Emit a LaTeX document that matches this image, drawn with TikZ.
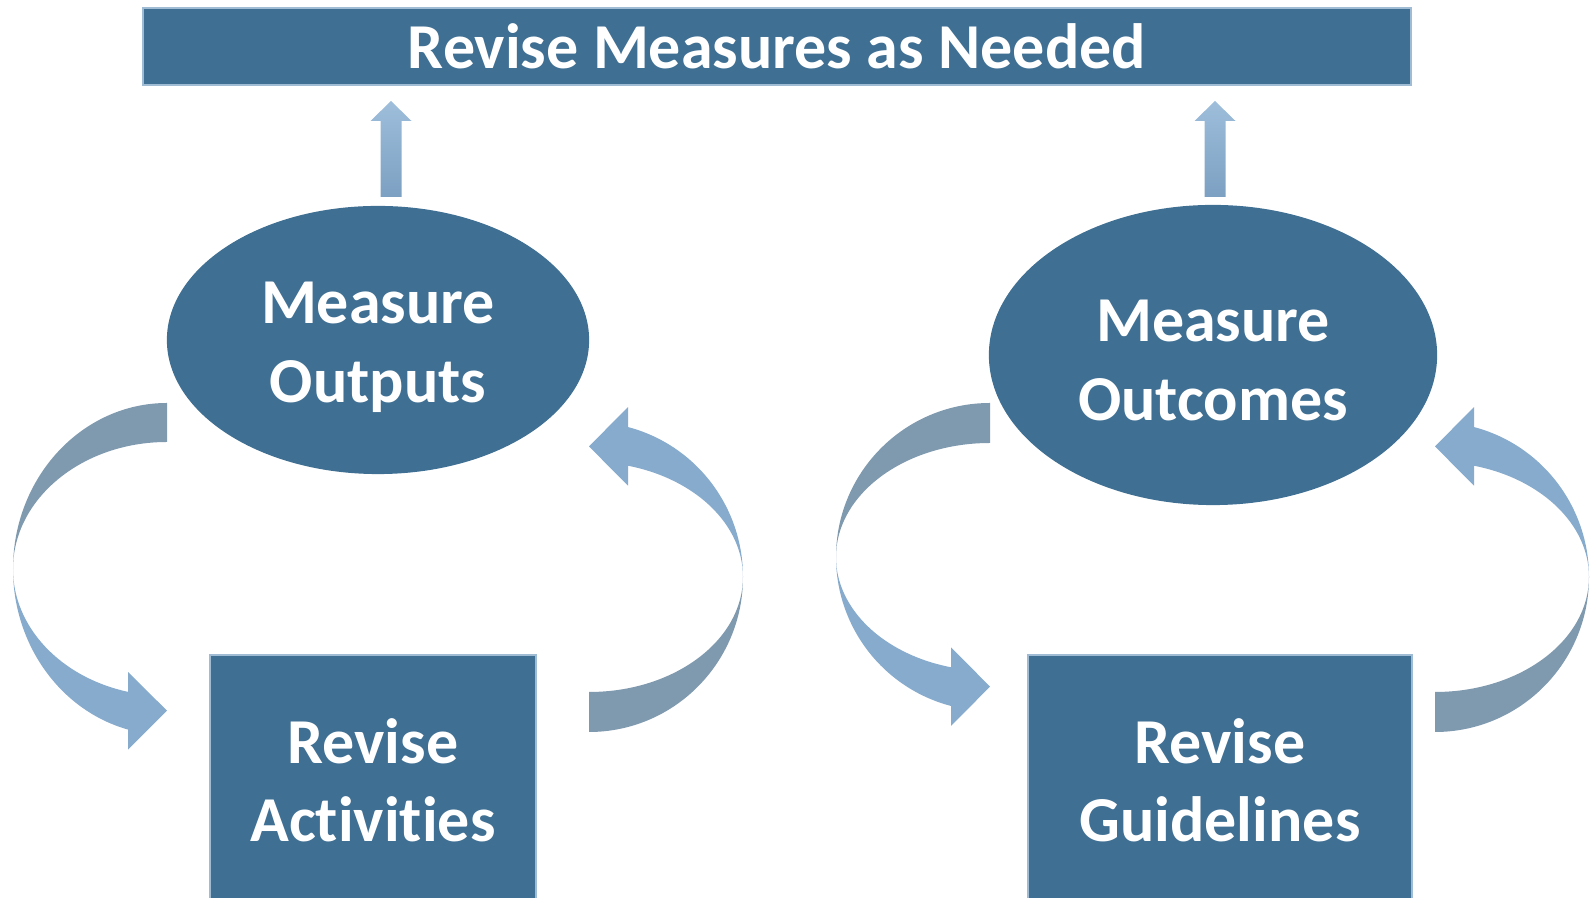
\documentclass[tikz,border=0pt]{standalone}
\usepackage{fontspec}
\setmainfont{Carlito}[RawFeature={-liga;-clig;-calt;-dlig}]
\usetikzlibrary{shapes.geometric}

\definecolor{mainblue}{RGB}{63,111,147}
\definecolor{boxedge}{RGB}{160,188,213}
\definecolor{loopdark}{RGB}{127,153,175}
\definecolor{looplight}{RGB}{134,171,204}
\definecolor{uptop}{RGB}{158,190,219}
\definecolor{upbot}{RGB}{124,160,194}

\begin{document}
\begin{tikzpicture}[x=0.01cm, y=-0.01cm,
    box/.style={rectangle, fill=mainblue, draw=boxedge, line width=0.5pt,
      text=white, align=center, inner sep=0pt,
      font=\bfseries\fontsize{18.2}{22.2}\selectfont},
    oval/.style={ellipse, fill=mainblue, text=white, align=center, inner sep=0pt,
      font=\bfseries\fontsize{18.2}{22.4}\selectfont}]
  \useasboundingbox (0,0) rectangle (1593,898);
  \clip (0,0) rectangle (1593,898);

  % curved arrows round each pair
  \foreach \cx/\cy/\ry/\ri/\rot in {167/569/166/127/0, 589/577/155/115/180,
                                    990/557/154/114/0, 1435/577/155/115/180}{
    \begin{scope}[shift={(\cx,\cy)}, rotate=\rot]
      \fill[loopdark] (0,-\ry) arc[start angle=270, end angle=180, x radius=154, y radius=\ry]
        arc[start angle=180, end angle=270, x radius=154, y radius=\ri] -- cycle;
      \fill[looplight] (-154,0) arc[start angle=180, end angle=104.67, x radius=154, y radius=\ry]
        -- ++(0,20) -- (0,{(\ry+\ri)/2*0.9674}) -- (-39,{\ri*0.9674-20}) -- (-39,{\ri*0.9674})
        arc[start angle=104.67, end angle=180, x radius=154, y radius=\ri] -- cycle;
    \end{scope}
  }

  % up arrows
  \foreach \x in {391,1215}
    \shade[top color=uptop, bottom color=upbot] (\x-10.5,197) -- (\x-10.5,121) -- (\x-20.5,121)
      -- (\x,101) -- (\x+20.5,121) -- (\x+10.5,121) -- (\x+10.5,197) -- cycle;

  \node[box, minimum width=12.68cm, minimum height=0.77cm] (needed) at (777,46.5) {Revise Measures as Needed};
  \node[oval, minimum width=4.22cm, minimum height=2.68cm] (outputs) at (378,340)
    {\raisebox{4pt}{\vphantom{M}}Measure\\Outputs};
  \node[oval, minimum width=4.48cm, minimum height=3.0cm] (outcomes) at (1213,355)
    {\raisebox{3pt}{\vphantom{M}}Measure\\Outcomes};
  \node[box, minimum width=3.26cm, minimum height=2.5cm] (activities) at (373,780) {Revise\\Activities};
  \node[box, minimum width=3.84cm, minimum height=2.5cm] (guidelines) at (1220,780) {Revise\\Guidelines};
\end{tikzpicture}
\end{document}
